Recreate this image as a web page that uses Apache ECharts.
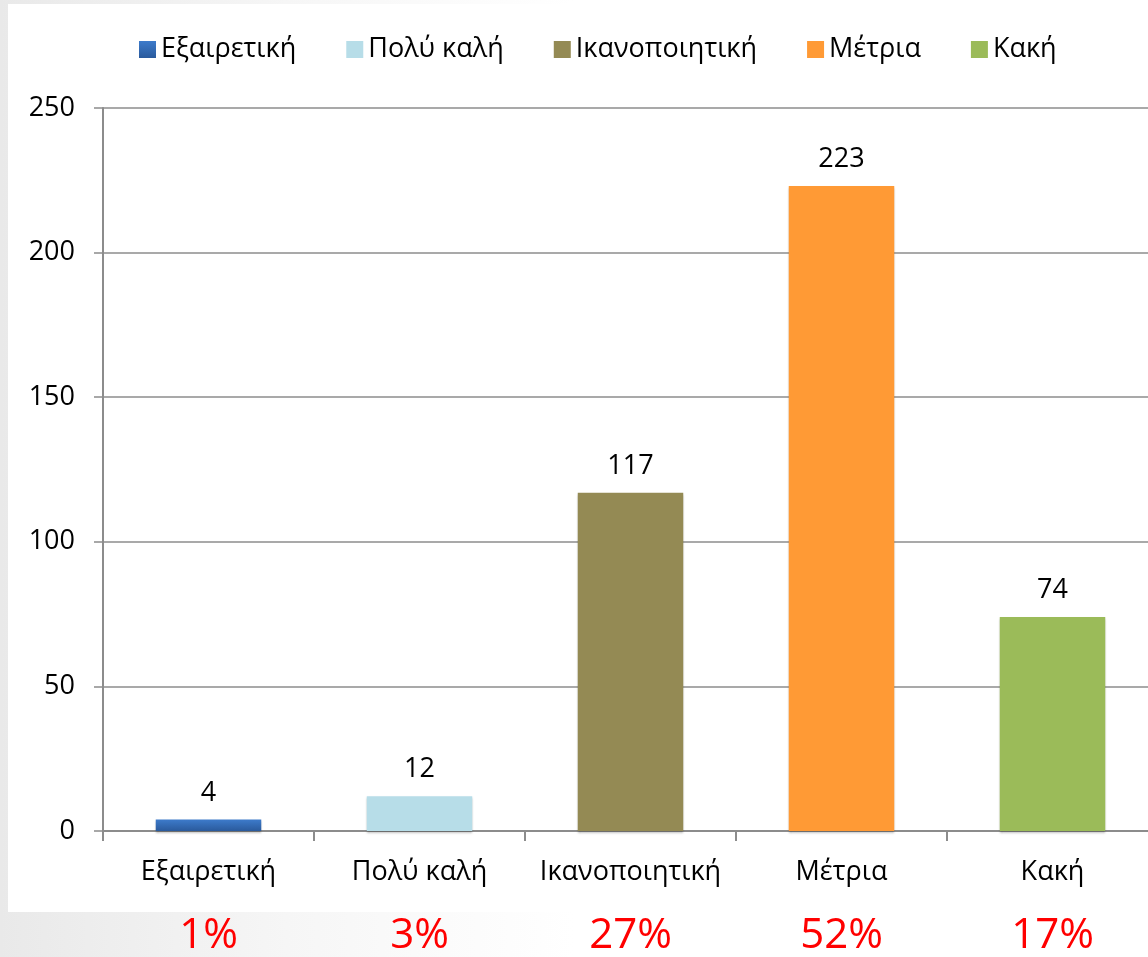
<!DOCTYPE html>
<html>
<head>
<meta charset="utf-8">
<script src="https://cdn.jsdelivr.net/npm/echarts@6/dist/echarts.min.js"></script>
<style>
  html, body { margin: 0; padding: 0; }
  body {
    width: 1148px; height: 957px; position: relative; overflow: hidden;
    background: linear-gradient(to right, #e9e9e9 0%, #f6f6f6 25%, #ffffff 50%);
  }
  #sheet { position: absolute; left: 8px; top: 4px; width: 1140px; height: 908px; background: #fff; }
  /* wider than the window: the last category runs past the right edge like the original */
  #chart { position: absolute; left: 0; top: 0; width: 1160px; height: 957px; }
</style>
</head>
<body>
<div id="sheet"></div>
<div id="chart"></div>
<script>
const categories = ['Εξαιρετική', 'Πολύ καλή', 'Ικανοποιητική', 'Μέτρια', 'Κακή']
const counts = [4, 12, 117, 223, 74]
const shares = ['1%', '3%', '27%', '52%', '17%']
const yTicks = [0, 50, 100, 150, 200, 250]

const FONT = '"Open Sans", "Noto Sans", sans-serif'
const AXIS_GRAY = '#8c8c8c'

const barColors = [
  new echarts.graphic.LinearGradient(0, 0, 0, 1, [
    { offset: 0, color: '#3d7bcb' },
    { offset: 1, color: '#2a5a9c' },
  ]),
  '#b7dde8',
  '#948a54',
  '#ff9a35',
  '#9bbb59',
]

const chart = echarts.init(document.getElementById('chart'))

const series = categories.map((name, i) => ({
  name,
  type: 'bar',
  stack: 'all',
  barWidth: '50%',
  itemStyle: {
    color: barColors[i],
    shadowColor: 'rgba(0,0,0,0.25)',
    shadowBlur: 2,
    shadowOffsetY: 2,
  },
  label: {
    show: true,
    position: 'top',
    distance: 13,
    fontSize: 27,
    color: '#000',
    fontFamily: FONT,
  },
  data: counts.map((v, j) => (j === i ? v : '-')),
}))

chart.setOption({
  animation: false,
  legend: {
    left: 134,
    top: 31,
    icon: 'rect',
    itemWidth: 17,
    itemHeight: 17,
    itemGap: 50,
    textStyle: { fontSize: 27, color: '#000', fontFamily: FONT },
    data: categories,
  },
  grid: { left: 103, right: 2, top: 108, bottom: 116 },
  xAxis: [
    {
      type: 'category',
      data: categories,
      axisLine: { lineStyle: { color: AXIS_GRAY, width: 2 } },
      axisTick: { show: true, length: 10, lineStyle: { color: AXIS_GRAY, width: 2 } },
      axisLabel: { interval: 0, fontSize: 27, color: '#000', margin: 28, fontFamily: FONT },
    },
    {
      type: 'category',
      position: 'bottom',
      data: shares,
      axisLine: { show: false },
      axisTick: { show: false },
      axisLabel: { interval: 0, fontSize: 42, color: '#ff0000', margin: 84, fontFamily: FONT },
    },
  ],
  yAxis: {
    type: 'value',
    min: yTicks[0],
    max: yTicks[yTicks.length - 1],
    interval: yTicks[1] - yTicks[0],
    axisLine: { show: true, lineStyle: { color: AXIS_GRAY, width: 2 } },
    axisTick: { show: true, length: 9, lineStyle: { color: AXIS_GRAY, width: 1.5 } },
    splitLine: { lineStyle: { color: AXIS_GRAY, width: 1.5 } },
    axisLabel: { fontSize: 27, color: '#000', margin: 28, fontFamily: FONT },
  },
  series,
})
</script>
</body>
</html>
